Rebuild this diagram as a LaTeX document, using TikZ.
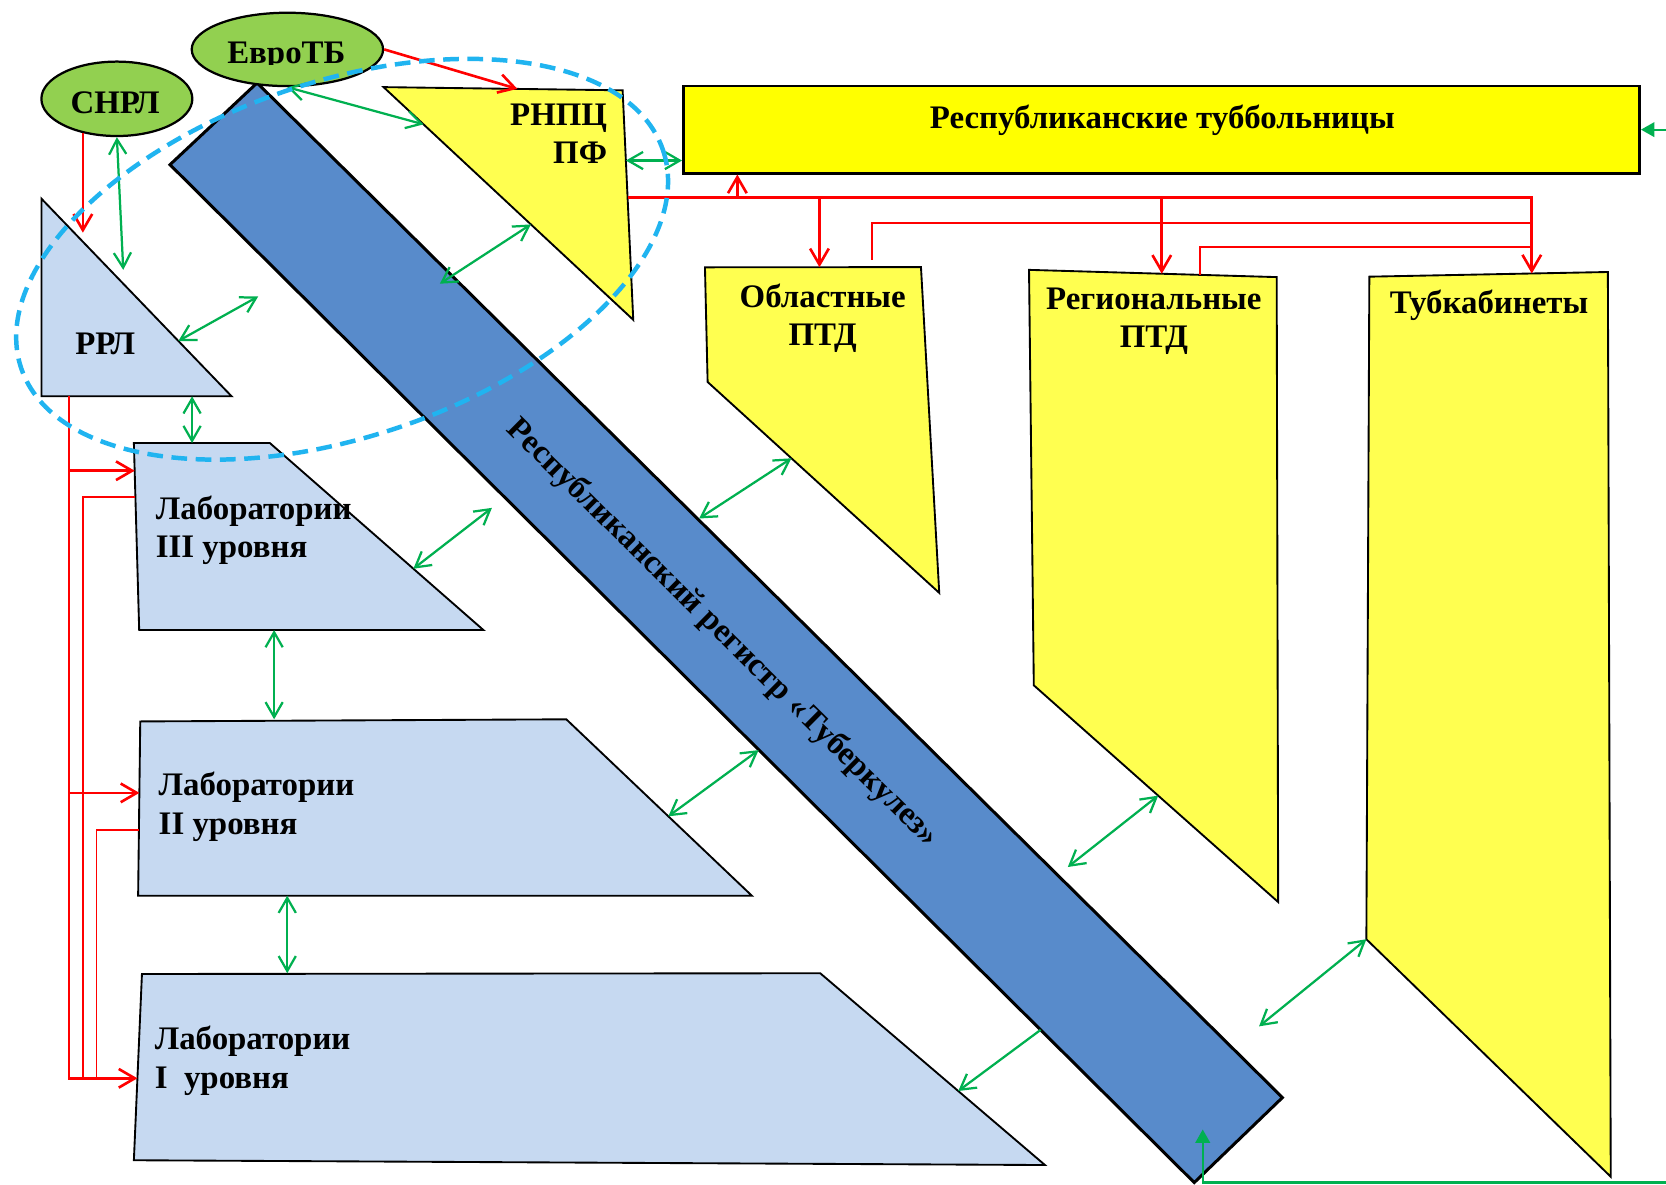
\documentclass[tikz,border=0pt]{standalone}
\usepackage{fontspec}
\setmainfont{Liberation Serif}
\usetikzlibrary{arrows.meta,shapes.geometric,calc}

\definecolor{labblue}{HTML}{C6D9F1}
\definecolor{regblue}{HTML}{588BCB}
\definecolor{ovalgreen}{HTML}{92D050}
\definecolor{boxyellow}{HTML}{FFFF00}
\definecolor{ptdyellow}{HTML}{FFFF50}
\definecolor{linkgreen}{HTML}{00B050}
\definecolor{zoneblue}{HTML}{20B4F0}

\tikzset{
  outline/.style={draw=black, line width=0.5pt, line join=miter},
  oval/.style={ellipse, draw=black, line width=0.6pt, fill=ovalgreen, inner sep=0pt},
  lbl/.style={font=\fontsize{8.8}{10.2}\selectfont\bfseries, inner sep=0pt},
  red link/.style={draw=red, line width=0.7pt, -{Straight Barb[length=4.3pt,width=5pt]}},
  red line/.style={draw=red, line width=0.5pt},
  green link/.style={draw=linkgreen, line width=0.6pt, {Straight Barb[length=4pt,width=4.6pt]}-{Straight Barb[length=4pt,width=4.6pt]}},
  green tip/.style={draw=linkgreen, line width=0.6pt, -{Straight Barb[length=4pt,width=4.6pt]}},
  hosp link/.style={draw=linkgreen, line width=0.6pt, {Triangle[length=3.6pt,width=3.9pt]}-{Triangle[length=3.6pt,width=3.9pt]}},
  zone/.style={draw=zoneblue, line width=1.2pt, dash pattern=on 4.2pt off 2.3pt}
}

\begin{document}
\begin{tikzpicture}[x=0.01cm, y=-0.01cm]

\fill[white] (0,0) rectangle (1568,1115);
\useasboundingbox (0,0) rectangle (1568,1115);

% registry
\draw[outline, fill=regblue, line width=0.8pt] (160,155) coordinate (bar-l) -- (242,78) coordinate (bar-t) -- (1207,1033) coordinate (bar-r) -- (1124,1113) coordinate (bar-b) -- cycle;
\node[lbl, rotate=-44.7] (bar-text) at (680,596) {Республиканский регистр «Туберкулез»};

% ovals
\node[oval, minimum width=1.8cm, minimum height=0.69cm] (evro) at (270.5,46.5) {};
\begin{scope}
\clip (180,0) rectangle (362,60.5);
\node[lbl, anchor=base] (evro-text) at (269.5,59.6) {ЕвроТБ};
\end{scope}
\node[oval, minimum width=1.42cm, minimum height=0.70cm] (snrl) at (110,93) {};
\node[lbl, anchor=base] (snrl-text) at (108.3,106.7) {СНРЛ};

% labs
\draw[outline, fill=labblue] (39,187) coordinate (rrl-t) -- (39,373) coordinate (rrl-bl) -- (218,373) coordinate (rrl-br) -- cycle;
\node[lbl, anchor=base] (rrl-text) at (99,334) {РРЛ};

\draw[outline, fill=labblue] (126,417) coordinate (lab3-tl) -- (254,417) coordinate (lab3-tr) -- (455,593) coordinate (lab3-br) -- (131,593) coordinate (lab3-bl) -- cycle;
\node[lbl, anchor=base west, align=left] (lab3-text) at (146,525) {Лаборатории\\III уровня};

\draw[outline, fill=labblue] (132,679) coordinate (lab2-tl) -- (533,677) coordinate (lab2-tr) -- (707.6,843) coordinate (lab2-br) -- (130,843) coordinate (lab2-bl) -- cycle;
\node[lbl, anchor=base west, align=left] (lab2-text) at (148.7,785) {Лаборатории\\II уровня};

\draw[outline, fill=labblue] (133.6,916.7) coordinate (lab1-tl) -- (772,916) coordinate (lab1-tr) -- (983.5,1096.5) coordinate (lab1-br) -- (126,1092) coordinate (lab1-bl) -- cycle;
\node[lbl, anchor=base west, align=left] (lab1-text) at (145,1024) {Лаборатории\\I\ \ уровня};

% centre and dispensaries
\draw[outline, fill=ptdyellow] (361,82) coordinate (pf-tl) -- (586,85) coordinate (pf-tr) -- (596,301) coordinate (pf-b) -- cycle;
\node[lbl, anchor=base east, align=right] (pf-text) at (572,154) {РНПЦ\\ПФ};

\node[draw=black, line width=0.7pt, fill=boxyellow, minimum width=8.995cm, minimum height=0.82cm, inner sep=0pt] (tubhosp) at (1093.2,122) {};
\node[lbl, anchor=base] (tubhosp-text) at (1094,120.8) {Республиканские туббольницы};

\draw[outline, fill=ptdyellow] (663.5,251.6) coordinate (obl-tl) -- (866.8,251.4) coordinate (obl-tr) -- (884,558) coordinate (obl-br) -- (666,359.5) coordinate (obl-bl) -- cycle;
\node[lbl, anchor=base, align=center] (obl-text) at (774.3,325.6) {Областные\\ПТД};

\draw[outline, fill=ptdyellow] (968.5,254) coordinate (rgn-tl) -- (1201.6,260.8) coordinate (rgn-tr) -- (1203,849) coordinate (rgn-br) -- (973,645) coordinate (rgn-bl) -- cycle;
\node[lbl, anchor=base, align=center] (rgn-text) at (1086,327) {Региональные\\ПТД};

\draw[outline, fill=ptdyellow] (1288.8,260.4) coordinate (tub-tl) -- (1513.3,256) coordinate (tub-tr) -- (1516,1107.5) coordinate (tub-br) -- (1286,884) coordinate (tub-bl) -- cycle;
\node[lbl, anchor=base] (tub-text) at (1401.5,295) {Тубкабинеты};

% red links
\coordinate (rrl-in) at (78,219);
\draw[red link] (evro.east) -- ($(pf-tl)!0.56!(pf-tr)$);
\draw[red link] (rrl-in |- snrl.-136) -- (rrl-in);

\coordinate (rrl-bus) at ($(rrl-bl)!0.145!(rrl-br)$);
\coordinate (lab3-in) at ($(lab3-tl)!0.148!(lab3-bl)$);
\coordinate (lab2-in) at ($(lab2-tl)!0.41!(lab2-bl)$);
\coordinate (lab1-in) at ($(lab1-tl)!0.56!(lab1-bl)$);
\draw[red line] ($(lab3-tl)!0.29!(lab3-bl)$) -| ($(lab1-in)+(-51,0)$);
\draw[red line] ($(lab2-tl)!0.625!(lab2-bl)$) -| ($(lab1-in)+(-38.5,0)$);
\draw[red link] (rrl-bus) |- (lab1-in);
\draw[red link] (rrl-bus |- lab3-in) -- (lab3-in);
\draw[red link] (rrl-bus |- lab2-in) -- (lab2-in);

\coordinate (pf-out) at ($(pf-tr)!0.468!(pf-b)$);
\coordinate (hosp-up) at ($(pf-out)+(103.3,0)$);
\coordinate (obl-in) at ($(obl-tl)!0.53!(obl-tr)$);
\coordinate (rgn-in) at ($(rgn-tl)!0.536!(rgn-tr)$);
\coordinate (tub-in) at ($(tub-tl)!0.681!(tub-tr)$);
\coordinate (obl-out) at (820.3,244.7);
\coordinate (rgn-out) at ($(rgn-tl)!0.69!(rgn-tr)$);
\draw[red line] (obl-out) |- ($(tub-in |- pf-out)+(0,23.5)$);
\draw[red line] (rgn-out) |- ($(tub-in |- pf-out)+(0,46.7)$);
\draw[red link] (pf-out) -| (tub-in);
\draw[red link] (hosp-up) -- (hosp-up |- tubhosp.south);
\draw[red link] (obl-in |- pf-out) -- (obl-in);
\draw[red link] (rgn-in |- pf-out) -- (rgn-in);

% green links
\draw[green link] (evro.south) -- ($(pf-tl)!0.16!(pf-b)$);
\draw[green link] (snrl.south) -- (116,254) coordinate (rrl-up);
\draw[green link] ($(rrl-t)!0.72!(rrl-br)$) -- (243,279) coordinate (rrl-reg);
\draw[green link] ($(pf-tl)!0.59!(pf-b)$) -- (414,267) coordinate (pf-reg);
\draw[green link] ($(pf-tr)!0.306!(pf-b)$) coordinate (pf-e) -- (pf-e -| tubhosp.west);
\draw[green link] ($(rrl-bl)!0.792!(rrl-br)$) coordinate (rrl-s) -- (rrl-s |- lab3-tl);
\draw[green link] ($(lab3-tr)!0.672!(lab3-br)$) -- (463,478) coordinate (lab3-reg);
\draw[green link] ($(lab3-bl)!0.392!(lab3-br)$) coordinate (lab3-s) -- (lab3-s |- lab2-tr);
\draw[green link] ($(lab2-tr)!0.55!(lab2-br)$) -- (714,706) coordinate (lab2-reg);
\draw[green link] ($(lab2-bl)!0.243!(lab2-br)$) coordinate (lab2-s) -- (lab2-s |- lab1-tr);
\draw[green tip] ($(bar-l)!0.85!(bar-b)$) -- ($(lab1-tr)!0.614!(lab1-br)$);
\draw[green link] ($(obl-bl)!0.362!(obl-br)$) -- (658,488) coordinate (obl-reg);
\draw[green link] ($(rgn-bl)!0.509!(rgn-br)$) -- (1005,816) coordinate (rgn-reg);
\draw[green link] (tub-bl) -- (1185,966) coordinate (tub-reg);
\draw[hosp link] (tubhosp.east) -- ++(60,0) |- (1132,1113) coordinate (bar-foot) -- (1132,1063);

% republican zone
\draw[zone, rotate around={18.8:(322,244)}] (322,244) ellipse [x radius=319, y radius=167];

\end{tikzpicture}
\end{document}
